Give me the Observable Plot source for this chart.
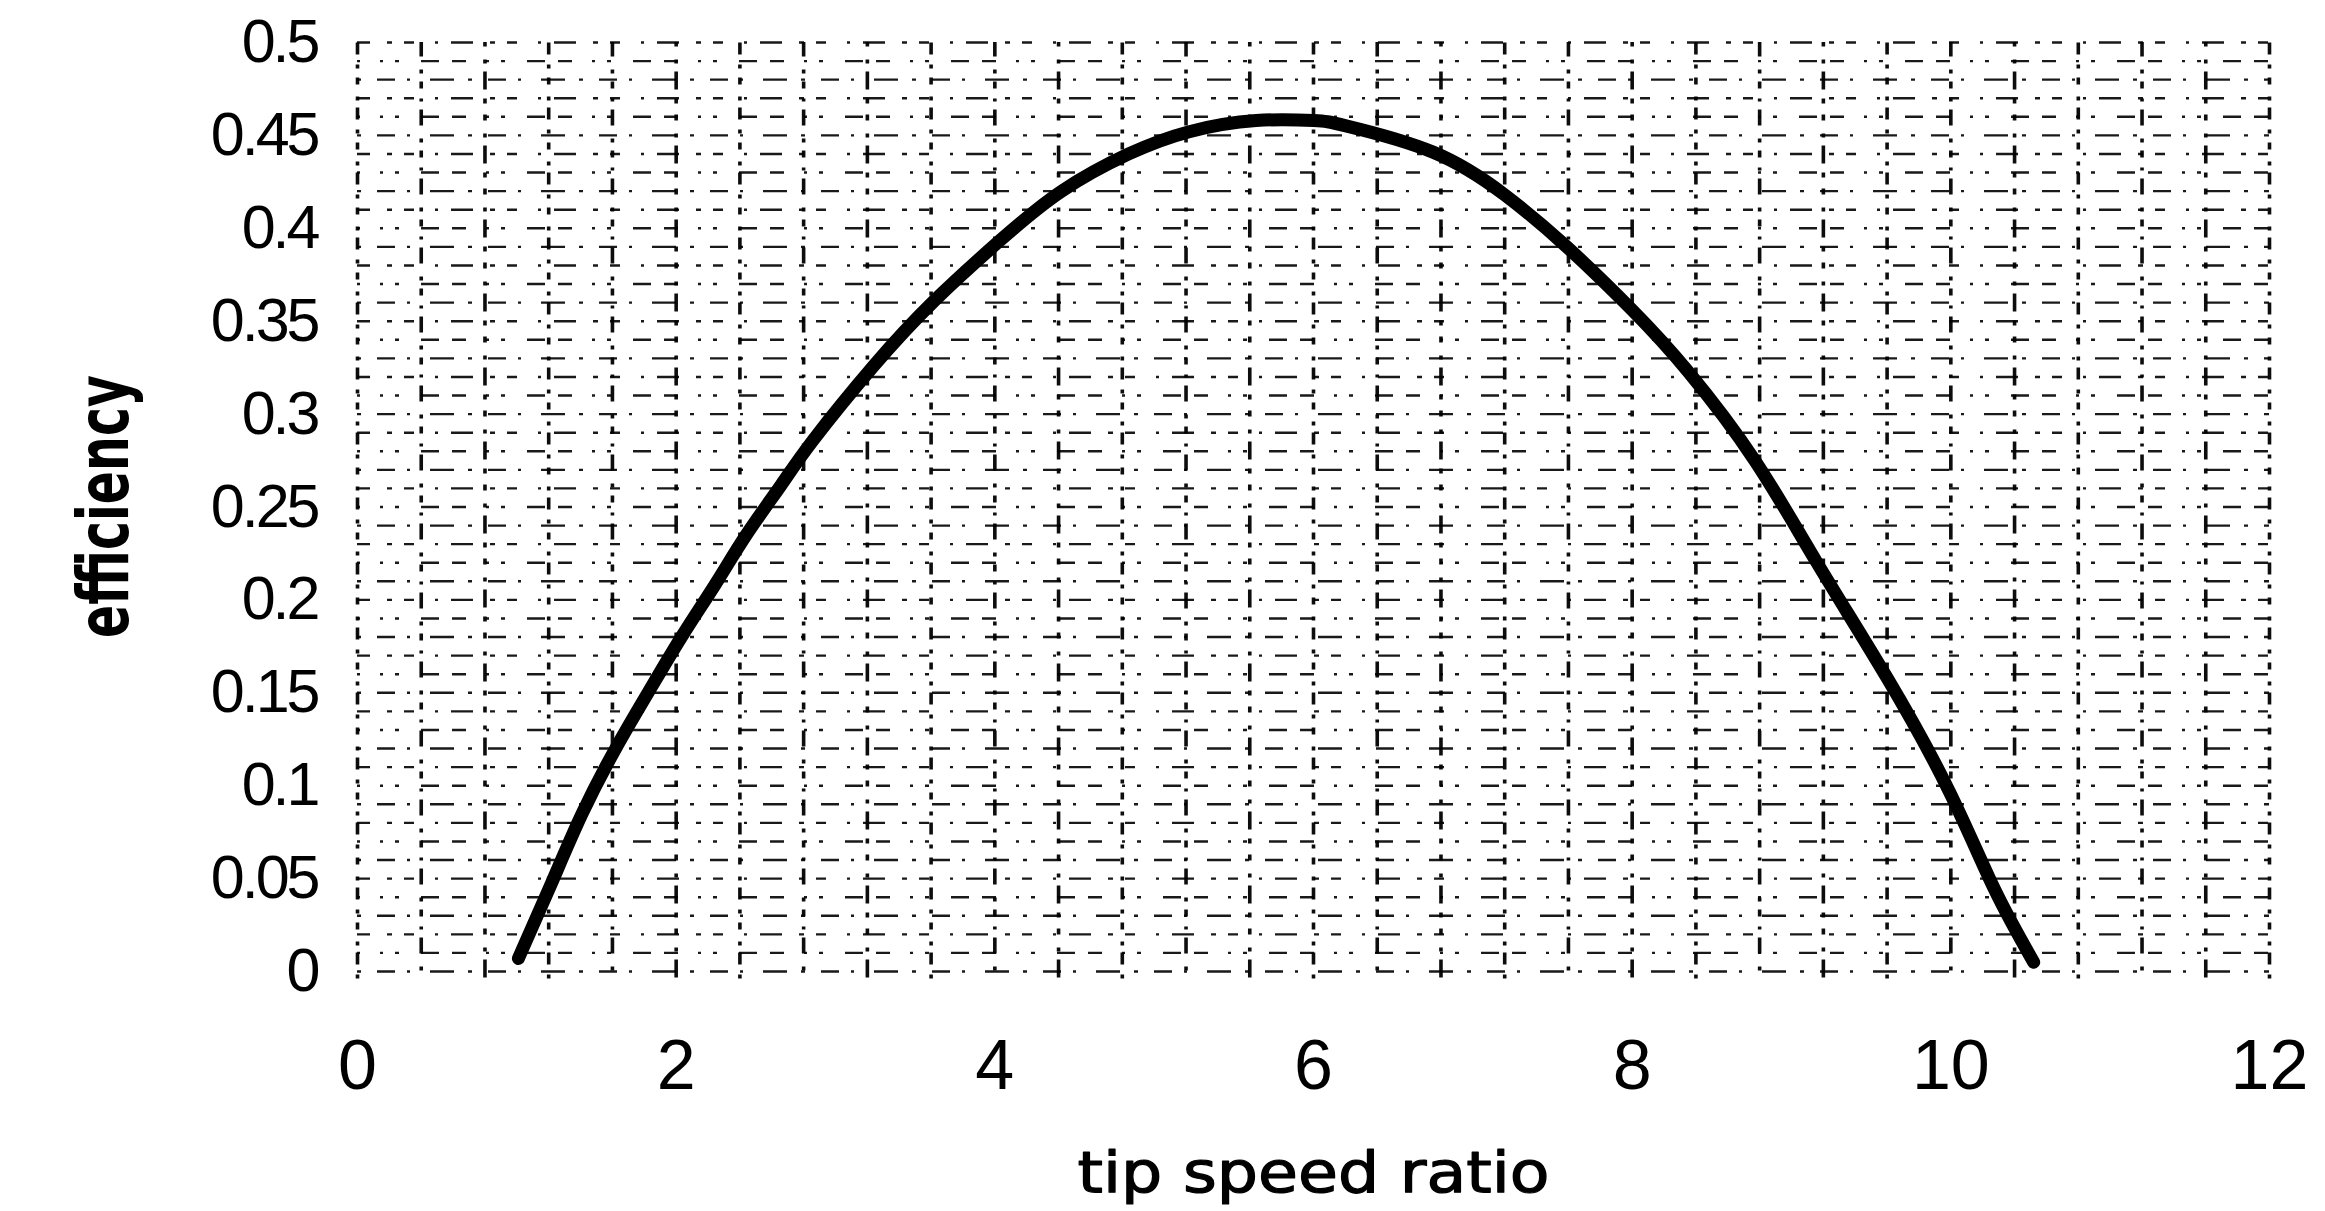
<!DOCTYPE html>
<html>
<head>
<meta charset="utf-8">
<script src="https://cdn.jsdelivr.net/npm/d3@7"></script>
<script src="https://cdn.jsdelivr.net/npm/@observablehq/plot@0.6"></script>
<style>
  html, body { margin: 0; padding: 0; background: #fff; }
  svg { display: block; }
</style>
</head>
<body>
<div id="chart"></div>
<script>
// Curve: tip speed ratio vs efficiency
const tsr = [1.01, 1.22, 1.41, 1.62, 1.83, 2.04, 2.25, 2.44, 2.66, 2.86, 3.24, 3.62, 4.04, 4.42, 4.84, 5.22, 5.64, 6.00, 6.21, 6.75, 7.20, 7.59, 8.00, 8.35, 8.77, 9.16, 9.60, 9.99, 10.27, 10.52];
const eff = [0.007, 0.048, 0.085, 0.120, 0.151, 0.181, 0.209, 0.235, 0.262, 0.286, 0.326, 0.361, 0.394, 0.420, 0.440, 0.452, 0.458, 0.458, 0.455, 0.441, 0.418, 0.390, 0.356, 0.323, 0.275, 0.220, 0.158, 0.097, 0.045, 0.005];

// Axis ticks and labels
const xTicks = [0, 2, 4, 6, 8, 10, 12];
const xTickLabels = ["0", "2", "4", "6", "8", "10", "12"];
const yTicks = [0, 0.05, 0.1, 0.15, 0.2, 0.25, 0.3, 0.35, 0.4, 0.45, 0.5];
const yTickLabels = ["0", "0.05", "0.1", "0.15", "0.2", "0.25", "0.3", "0.35", "0.4", "0.45", "0.5"];
const xTitle = "tip speed ratio";
const yTitle = "efficiency";

// Background graph-paper grid positions
const gridX = d3.range(0, 12.001, 0.4).map(v => +v.toFixed(2));
const gridY = d3.range(0, 0.5001, 0.01).map(v => +v.toFixed(3));

const pts = tsr.map((x, i) => ({x, y: eff[i]}));
const gx = k => gridX.filter((d, i) => i % 3 === k);
const gy = k => gridY.filter((d, i) => i % 3 === k);

const chart = Plot.plot({
  width: 2325,
  height: 1211,
  marginLeft: 357,
  marginRight: 56,
  marginTop: 42,
  marginBottom: 240,
  x: {domain: [0, 12]},
  y: {domain: [0, 0.5]},
  style: {fontFamily: "Liberation Sans", background: "#fff", color: "#000"},
  marks: [
    Plot.ruleY(gy(0), {x1: 0, x2: 12, stroke: "#000", strokeWidth: 2.4, strokeDasharray: "4,16,18,12,3,20,24,14", strokeOpacity: 0.9}),
    Plot.ruleY(gy(1), {x1: 0, x2: 12, stroke: "#000", strokeWidth: 2.4, strokeDasharray: "14,20,3,12,4,22,18,13", strokeDashoffset: 11, strokeOpacity: 0.9}),
    Plot.ruleY(gy(2), {x1: 0, x2: 12, stroke: "#000", strokeWidth: 2.4, strokeDasharray: "3,13,22,17,5,12,10,21", strokeDashoffset: 25, strokeOpacity: 0.9}),
    Plot.ruleX(gx(0), {y1: -0.004, y2: 0.5, stroke: "#000", strokeWidth: 3.6, strokeDasharray: "4,10,12,7,4,12,7,9", strokeOpacity: 0.95}),
    Plot.ruleX(gx(1), {y1: -0.004, y2: 0.5, stroke: "#000", strokeWidth: 3.6, strokeDasharray: "7,8,4,13,16,8,3,10", strokeDashoffset: 7, strokeOpacity: 0.95}),
    Plot.ruleX(gx(2), {y1: -0.004, y2: 0.5, stroke: "#000", strokeWidth: 3.6, strokeDasharray: "5,9,18,8,4,13,6,11", strokeDashoffset: 13, strokeOpacity: 0.95}),
    Plot.line(pts, {x: "x", y: "y", stroke: "#000", strokeWidth: 13, curve: "natural", strokeLinecap: "round", strokeLinejoin: "round"}),
    Plot.axisX({ticks: xTicks, tickSize: 0, tickPadding: 68, fontSize: 70, label: null,
      tickFormat: d => xTickLabels[xTicks.indexOf(d)]}),
    Plot.axisY({ticks: yTicks, tickSize: 0, tickPadding: 40, fontSize: 61, label: null,
      tickFormat: d => yTickLabels[yTicks.indexOf(d)]}),
    Plot.text([xTitle], {text: d => d, frameAnchor: "bottom", dy: 220, fontSize: 57, fontFamily: "DejaVu Sans",
      stroke: "#000", strokeWidth: 1.2, fill: "#000"}),
    Plot.text([yTitle], {text: d => d, frameAnchor: "left", dx: -253, dy: 131, rotate: -90, textAnchor: "start",
      fontSize: 72, fontWeight: "bold", fontFamily: "DejaVu Sans"})
  ]
});

const svg = d3.select(chart);
svg.selectAll("text").filter(function() { return this.textContent === xTitle; })
  .attr("textLength", 472).attr("lengthAdjust", "spacingAndGlyphs");
svg.selectAll("text").filter(function() { return this.textContent === yTitle; })
  .attr("textLength", 263).attr("lengthAdjust", "spacingAndGlyphs");
svg.selectAll("g[aria-label='y-axis tick label'] text").style("letter-spacing", "-3px");

document.getElementById("chart").appendChild(chart);
</script>
</body>
</html>
